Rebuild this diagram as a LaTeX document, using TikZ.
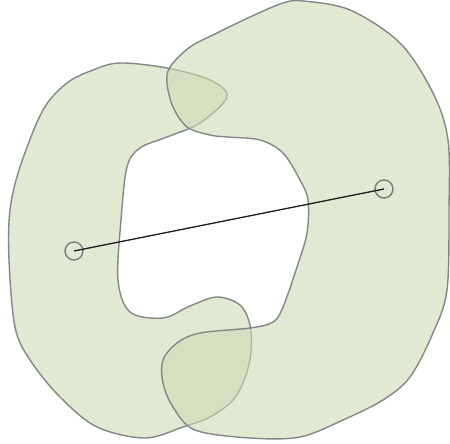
\documentclass[tikz,border=0pt]{standalone}
\begin{document}
\begin{tikzpicture}[x=1pt,y=-1pt,
  blob/.style={draw={rgb,255:red,130;green,135;blue,135}, line width=1.4pt,
    fill={rgb,255:red,204;green,218;blue,179}, fill opacity=0.6},
  endpt/.style={circle, draw={rgb,255:red,120;green,125;blue,120}, line width=1.4pt, minimum size=18pt, inner sep=0pt},
  link/.style={draw={rgb,255:red,30;green,30;blue,30}, line width=1.3pt}]
\useasboundingbox (0,0) rectangle (450,444);
% left C-shaped region
\path[blob] plot[smooth cycle, tension=0.55] coordinates {
  (120,63) (167,68) (210,80) (227,97) (200,123) (167,137) (140,148) (127,167)
  (121,220) (118,280) (130,312) (163,318) (190,306) (217,297) (240,305) (250,325)
  (251,352) (245,378) (233,400) (210,417) (183,427) (145,438) (97,427) (60,397)
  (30,360) (15,327) (9,260) (10,210) (20,167) (43,110) (67,83) (93,70)};
% right reversed-C region
\path[blob] plot[smooth cycle, tension=0.55] coordinates {
  (303,1) (350,10) (400,43) (433,93) (448,140) (449,210) (447,290) (433,333)
  (410,377) (383,400) (343,420) (300,437) (250,438) (195,430) (173,407) (163,383)
  (163,360) (177,343) (200,333) (250,328) (273,322) (283,307) (297,267) (307,233)
  (308,200) (300,180) (283,153) (260,140) (227,137) (210,135) (187,127) (173,107)
  (167,83) (170,67) (190,47) (217,33) (250,17) (283,3)};
\node[endpt] (a) at (74,251) {};
\node[endpt] (b) at (384,189) {};
\draw[link] (a.center) -- (b.center);
\end{tikzpicture}
\end{document}
